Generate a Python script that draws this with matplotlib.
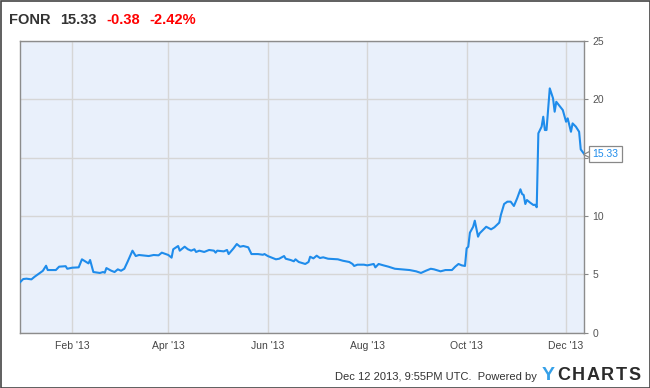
import matplotlib
matplotlib.use("Agg")
import matplotlib.pyplot as plt
import matplotlib.transforms as mtransforms
from matplotlib.patches import Rectangle
import pandas as pd

ticker = "FONR"
last_price = "15.33"
change = "-0.38"
change_pct = "-2.42%"
footer_text = "Dec 12 2013, 9:55PM UTC.  Powered by"
brand_first = "Y"
brand_rest = "CHARTS"

dates = [
    "2012-12-31", "2013-01-02", "2013-01-04", "2013-01-07", "2013-01-09", "2013-01-11",
    "2013-01-14", "2013-01-16", "2013-01-17", "2013-01-22", "2013-01-24", "2013-01-28",
    "2013-01-29", "2013-02-01", "2013-02-05", "2013-02-07", "2013-02-11", "2013-02-12",
    "2013-02-14", "2013-02-18", "2013-02-20", "2013-02-21", "2013-02-22", "2013-02-25",
    "2013-02-27", "2013-03-01", "2013-03-03", "2013-03-05", "2013-03-07", "2013-03-10",
    "2013-03-12", "2013-03-14", "2013-03-20", "2013-03-23", "2013-03-26", "2013-03-28",
    "2013-04-01", "2013-04-03", "2013-04-04", "2013-04-07", "2013-04-08", "2013-04-11",
    "2013-04-13", "2013-04-15", "2013-04-17", "2013-04-18", "2013-04-20", "2013-04-23",
    "2013-04-26", "2013-04-29", "2013-04-30", "2013-05-01", "2013-05-05", "2013-05-07",
    "2013-05-08", "2013-05-11", "2013-05-13", "2013-05-15", "2013-05-17", "2013-05-20",
    "2013-05-22", "2013-05-26", "2013-05-29", "2013-05-30", "2013-06-01", "2013-06-04",
    "2013-06-06", "2013-06-08", "2013-06-11", "2013-06-12", "2013-06-15", "2013-06-17",
    "2013-06-18", "2013-06-20", "2013-06-24", "2013-06-26", "2013-06-27", "2013-06-29",
    "2013-07-01", "2013-07-03", "2013-07-05", "2013-07-08", "2013-07-14", "2013-07-17",
    "2013-07-21", "2013-07-23", "2013-07-24", "2013-07-26", "2013-07-30", "2013-08-01",
    "2013-08-05", "2013-08-06", "2013-08-08", "2013-08-11", "2013-08-14", "2013-08-18",
    "2013-08-22", "2013-08-27", "2013-08-31", "2013-09-03", "2013-09-06", "2013-09-09",
    "2013-09-11", "2013-09-15", "2013-09-18", "2013-09-22", "2013-09-24", "2013-09-26",
    "2013-09-28", "2013-09-30", "2013-10-01", "2013-10-02", "2013-10-03", "2013-10-05",
    "2013-10-06", "2013-10-08", "2013-10-09", "2013-10-11", "2013-10-13", "2013-10-16",
    "2013-10-18", "2013-10-21", "2013-10-22", "2013-10-24", "2013-10-26", "2013-10-28",
    "2013-10-30", "2013-11-01", "2013-11-03", "2013-11-04", "2013-11-05", "2013-11-06",
    "2013-11-07", "2013-11-09", "2013-11-11", "2013-11-12", "2013-11-13", "2013-11-14",
    "2013-11-16", "2013-11-17", "2013-11-18", "2013-11-19", "2013-11-21", "2013-11-23",
    "2013-11-24", "2013-11-25", "2013-11-27", "2013-11-29", "2013-12-01", "2013-12-02",
    "2013-12-04", "2013-12-05", "2013-12-07", "2013-12-09", "2013-12-10", "2013-12-12",
]

prices = [
    4.32, 4.60, 4.63, 4.57, 4.80, 5.00,
    5.30, 5.74, 5.37, 5.37, 5.66, 5.70,
    5.48, 5.57, 5.60, 6.29, 5.94, 6.23,
    5.20, 5.12, 5.20, 5.14, 5.54, 5.31,
    5.20, 5.43, 5.31, 5.48, 6.08, 7.03,
    6.57, 6.66, 6.57, 6.66, 6.63, 6.86,
    6.66, 6.43, 7.15, 7.43, 7.03, 7.37,
    7.15, 7.03, 7.15, 6.92, 7.03, 6.92,
    7.09, 7.03, 6.86, 7.03, 6.97, 7.09,
    6.74, 7.23, 7.60, 7.37, 7.43, 7.32,
    6.74, 6.74, 6.68, 6.74, 6.57, 6.40,
    6.29, 6.34, 6.57, 6.34, 6.23, 6.12,
    6.29, 6.06, 5.89, 6.06, 6.51, 6.37,
    6.60, 6.40, 6.46, 6.34, 6.29, 6.17,
    6.06, 5.89, 5.72, 5.83, 5.83, 5.77,
    5.89, 5.60, 5.89, 5.77, 5.66, 5.48,
    5.43, 5.37, 5.26, 5.12, 5.31, 5.48,
    5.43, 5.26, 5.37, 5.37, 5.66, 5.89,
    5.77, 5.72, 7.23, 7.37, 8.57, 9.08,
    9.60, 8.23, 8.52, 8.80, 9.08, 8.86,
    9.03, 9.43, 10.09, 11.03, 11.23, 11.23,
    10.86, 11.52, 12.29, 11.89, 11.80, 11.03,
    11.37, 11.14, 10.94, 10.97, 10.75, 17.09,
    17.66, 18.51, 17.37, 17.37, 20.94, 20.09,
    18.94, 19.79, 19.43, 19.08, 18.08, 18.37,
    17.22, 17.94, 17.66, 17.22, 15.71, 15.33,
]

tick_dates = ["2013-02-01", "2013-04-01", "2013-06-01", "2013-08-01", "2013-10-01", "2013-12-01"]
tick_labels = ["Feb '13", "Apr '13", "Jun '13", "Aug '13", "Oct '13", "Dec '13"]
y_ticks = [0, 5, 10, 15, 20, 25]
# the "15" label sits under the last-value callout in the reference
y_labels = ["0", "5", "10", "", "20", "25"]

plt.rcParams['font.family'] = ['Liberation Sans', 'DejaVu Sans']

x = pd.to_datetime(dates)
W, H = 650, 388
fig = plt.figure(figsize=(W / 100, H / 100), dpi=100)
fig.patch.set_facecolor('white')

ax = fig.add_axes([20 / W, (H - 332.7) / H, 564 / W, 291.7 / H])
ax.set_facecolor('#e9f0fb')

line_color = '#1f8ceb'
ax.plot(x, prices, color=line_color, lw=1.5, solid_joinstyle='round', zorder=3)

ax.set_xlim(pd.Timestamp("2012-12-31"), pd.Timestamp("2013-12-12"))
ax.set_ylim(0, 25)

ax.set_xticks(pd.to_datetime(tick_dates))
ax.set_xticklabels(tick_labels)
ax.set_yticks(y_ticks)
ax.set_yticklabels(y_labels)
ax.yaxis.tick_right()
ax.tick_params(axis='x', length=0, pad=6, labelsize=7.5, labelcolor='#444444')
ax.tick_params(axis='y', length=3, width=0.8, color='#888888', pad=3,
               labelsize=7.5, labelcolor='#555555')
ax.grid(True, color='#d6d6d6', lw=1, zorder=1)
ax.set_axisbelow(True)
for s in ax.spines.values():
    s.set_color('#8c8c8c')
    s.set_linewidth(1)

# Last value callout: small left-pointing notch plus boxed value
px = 72 / fig.dpi  # points per pixel
notch = mtransforms.offset_copy(ax.transData, fig=fig, x=3.2 * px, y=0, units='points')
ax.plot([x[-1]], [prices[-1]], marker='<', ms=5.5, mfc='white', mec='#888888', mew=0.9,
        transform=notch, clip_on=False, zorder=5)
ax.annotate(f"{prices[-1]:.2f}", xy=(x[-1], prices[-1]), xytext=(8.5 * px, 0),
            textcoords='offset points', ha='left', va='center', fontsize=7.5,
            color=line_color, annotation_clip=False, zorder=6,
            bbox=dict(boxstyle='square,pad=0.3', fc='white', ec='#888888', lw=0.9))

# Title, laid out left to right with fixed gaps
fig.canvas.draw()
renderer = fig.canvas.get_renderer()
cur = 9
for txt, col in [(ticker, '#333333'), (last_price, '#333333'), (change, '#ff0000'), (change_pct, '#ff0000')]:
    t = fig.text(cur / W, 1 - 19.5 / H, txt, fontsize=10.5, fontweight='bold', color=col, va='center')
    cur += t.get_window_extent(renderer).width + 9.5

# Footer
fig.text(537 / W, 1 - 377 / H, footer_text, fontsize=8, color='#333333', ha='right', va='center')
bx = 542
t = fig.text(bx / W, 1 - 376 / H, brand_first, fontsize=14, fontweight='bold', color='#35a0e8',
             ha='left', va='center')
bx += t.get_window_extent(renderer).width + 2.0
for ch in brand_rest:
    t = fig.text(bx / W, 1 - 376 / H, ch, fontsize=13, fontweight='bold', color='#2b2b2b',
                 ha='left', va='center')
    bx += t.get_window_extent(renderer).width + 1.6

# Outer border
fig.patches.append(Rectangle((0.5 / W, 0.5 / H), 1 - 1 / W, 1 - 1 / H, transform=fig.transFigure,
                             fill=False, ec='#444444', lw=1.2))

fig.savefig("out.png", dpi=100)
